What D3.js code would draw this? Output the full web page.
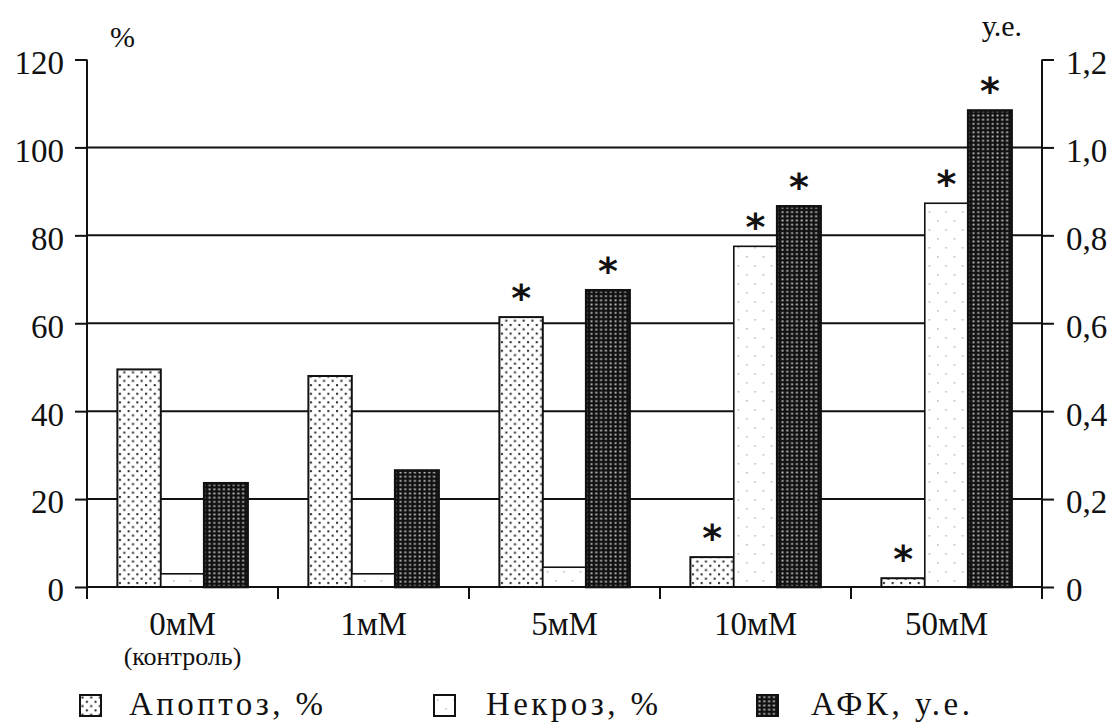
<!DOCTYPE html>
<html>
<head>
<meta charset="utf-8">
<script src="https://cdn.jsdelivr.net/npm/d3@7"></script>
<style>
  body { margin: 0; background: #fff; }
  svg text { font-family: "Liberation Serif", "Times New Roman", serif; fill: #111; }
</style>
</head>
<body>
<svg width="1118" height="723"></svg>
<script>
// data
const categories = ["0мМ", "1мМ", "5мМ", "10мМ", "50мМ"];
const subLabels = ["(контроль)", "", "", "", ""];
const apoptosis = [49.5, 48, 61.4, 6.8, 2];      // %
const necrosis = [3, 3, 4.5, 77.5, 87.3];         // %
const afk = [0.236, 0.265, 0.675, 0.866, 1.084];   // у.е.
const starApoptosis = [false, false, true, true, true];
const starNecrosis = [false, false, false, true, true];
const starAfk = [false, false, true, true, true];
const leftTicks = [0, 20, 40, 60, 80, 100, 120];
const rightTicks = [0, 0.2, 0.4, 0.6, 0.8, 1.0, 1.2];
const gridTicks = [20, 40, 60, 80, 100];
const legendLabels = ["Апоптоз, %", "Некроз, %", "АФК, у.е."];

const svg = d3.select('svg');
const plotLeft = 87, plotRight = 1042, plotTop = 59.5, plotBottom = 587;

const x0 = d3.scaleBand().domain(categories).range([plotLeft, plotRight]).padding(0);
const keys = ["apo", "nec", "afk"];
const x1 = d3.scaleBand().domain(keys).range([0, x0.bandwidth()]).paddingInner(0).paddingOuter(0.7);
const yL = d3.scaleLinear().domain([0, 120]).range([plotBottom, plotTop]);
const yR = d3.scaleLinear().domain([0, 1.2]).range([plotBottom, plotTop]);

// patterns
const defs = svg.append("defs");
let p = defs.append("pattern").attr("id", "pat-apo").attr("patternUnits", "userSpaceOnUse")
    .attr("width", 8.7).attr("height", 8.6);
p.append("rect").attr("width", 8.7).attr("height", 8.6).attr("fill", "#fff");
p.append("rect").attr("x", 1.5).attr("y", 1.5).attr("width", 2).attr("height", 2).attr("fill", "#222");
p.append("rect").attr("x", 5.85).attr("y", 5.8).attr("width", 2).attr("height", 2).attr("fill", "#222");

p = defs.append("pattern").attr("id", "pat-nec").attr("patternUnits", "userSpaceOnUse")
    .attr("width", 16.6).attr("height", 18);
p.append("rect").attr("width", 16.6).attr("height", 18).attr("fill", "#fff");
p.append("rect").attr("x", 3).attr("y", 4).attr("width", 1.6).attr("height", 1.6).attr("fill", "#bbb");
p.append("rect").attr("x", 11.3).attr("y", 13).attr("width", 1.6).attr("height", 1.6).attr("fill", "#bbb");

p = defs.append("pattern").attr("id", "pat-afk").attr("patternUnits", "userSpaceOnUse")
    .attr("width", 4.8).attr("height", 4.2);
p.append("rect").attr("width", 4.8).attr("height", 4.2).attr("fill", "#111");
p.append("rect").attr("x", 1.5).attr("y", 1.2).attr("width", 2).attr("height", 1.8).attr("fill", "#bdbdbd");

const fills = { apo: "url(#pat-apo)", nec: "url(#pat-nec)", afk: "url(#pat-afk)" };

// grid lines
svg.append("g").attr("class", "grid")
    .selectAll("line").data(gridTicks).enter().append("line")
    .attr("x1", plotLeft).attr("x2", plotRight)
    .attr("y1", d => yL(d)).attr("y2", d => yL(d))
    .attr("stroke", "#111").attr("stroke-width", 2);

// bars
const rows = categories.map((c, i) => ({
    cat: c,
    bars: [
        { key: "apo", y: yL(apoptosis[i]), star: starApoptosis[i] },
        { key: "nec", y: yL(necrosis[i]), star: starNecrosis[i] },
        { key: "afk", y: yR(afk[i]), star: starAfk[i] }
    ]
}));

const group = svg.selectAll(".grp").data(rows).enter().append("g")
    .attr("class", "grp")
    .attr("transform", d => "translate(" + x0(d.cat) + ",0)");

group.selectAll("rect").data(d => d.bars).enter().append("rect")
    .attr("x", d => x1(d.key))
    .attr("y", d => d.y)
    .attr("width", x1.bandwidth())
    .attr("height", d => plotBottom - d.y)
    .attr("fill", d => fills[d.key])
    .attr("stroke", "#111")
    .attr("stroke-width", d => d.key === "afk" ? 2.6 : (d.key === "nec" ? 1.6 : 2));

group.selectAll(".star").data(d => d.bars.filter(b => b.star)).enter().append("text")
    .attr("class", "star")
    .attr("x", d => x1(d.key) + x1.bandwidth() / 2)
    .attr("y", d => d.y - 6)
    .attr("text-anchor", "middle")
    .style("font-family", "DejaVu Sans")
    .style("font-weight", "bold")
    .style("font-size", "38px")
    .text("*");

// left axis
const yAxisL = d3.axisLeft(yL).tickValues(leftTicks).tickSize(12).tickSizeOuter(0).tickPadding(11);
const gL = svg.append("g").attr("transform", "translate(" + plotLeft + ",0)").call(yAxisL);
gL.select(".domain").remove();
gL.selectAll("line").attr("stroke", "#111").attr("stroke-width", 2);
gL.selectAll("text").style("font-size", "33px").attr("dy", "0.42em");

// right axis
const yAxisR = d3.axisRight(yR).tickValues(rightTicks).tickSize(12).tickSizeOuter(0).tickPadding(12)
    .tickFormat(d => d === 0 ? "0" : d3.format(".1f")(d).replace(".", ","));
const gR = svg.append("g").attr("transform", "translate(" + plotRight + ",0)").call(yAxisR);
gR.select(".domain").remove();
gR.selectAll("line").attr("stroke", "#111").attr("stroke-width", 2);
gR.selectAll("text").style("font-size", "33px").attr("dy", "0.42em");

// axis lines
svg.append("line").attr("x1", plotLeft).attr("x2", plotLeft).attr("y1", plotTop).attr("y2", plotBottom + 12)
    .attr("stroke", "#111").attr("stroke-width", 2);
svg.append("line").attr("x1", plotRight).attr("x2", plotRight).attr("y1", plotTop).attr("y2", plotBottom + 12)
    .attr("stroke", "#111").attr("stroke-width", 2);
svg.append("line").attr("x1", plotLeft).attr("x2", plotRight).attr("y1", plotBottom).attr("y2", plotBottom)
    .attr("stroke", "#111").attr("stroke-width", 2);

// x ticks at category boundaries
const bounds = categories.map(c => x0(c)).concat([plotRight]);
svg.append("g").selectAll("line").data(bounds).enter().append("line")
    .attr("x1", d => d).attr("x2", d => d)
    .attr("y1", plotBottom).attr("y2", plotBottom + 12)
    .attr("stroke", "#111").attr("stroke-width", 2);

// x labels
svg.append("g").selectAll("text").data(categories).enter().append("text")
    .attr("x", d => x0(d) + x0.bandwidth() / 2)
    .attr("y", 635)
    .attr("text-anchor", "middle")
    .style("font-size", "33px")
    .text(d => d);
svg.append("g").selectAll("text").data(categories.filter((c, i) => subLabels[i])).enter().append("text")
    .attr("x", d => x0(d) + x0.bandwidth() / 2)
    .attr("y", 665)
    .attr("text-anchor", "middle")
    .style("font-size", "26px")
    .text(d => subLabels[categories.indexOf(d)]);

// axis unit labels
svg.append("text").attr("x", 110).attr("y", 47).style("font-size", "30px").text("%");
svg.append("text").attr("x", 1022).attr("y", 36).attr("text-anchor", "end").style("font-size", "30px").text("у.е.");

// legend
const legendX = [80, 434, 757];
const legendW = [194, 172, 159];
const leg = svg.selectAll(".leg").data(keys).enter().append("g")
    .attr("class", "leg")
    .attr("transform", (d, i) => "translate(" + legendX[i] + ",695)");
leg.append("rect").attr("width", 21).attr("height", 21)
    .attr("fill", d => fills[d]).attr("stroke", "#111").attr("stroke-width", 2);
leg.append("text")
    .attr("x", (d, i) => [49, 52, 54][i])
    .attr("y", 20)
    .attr("textLength", (d, i) => legendW[i])
    .attr("lengthAdjust", "spacing")
    .style("font-size", "33px")
    .text((d, i) => legendLabels[i]);
</script>
</body>
</html>
